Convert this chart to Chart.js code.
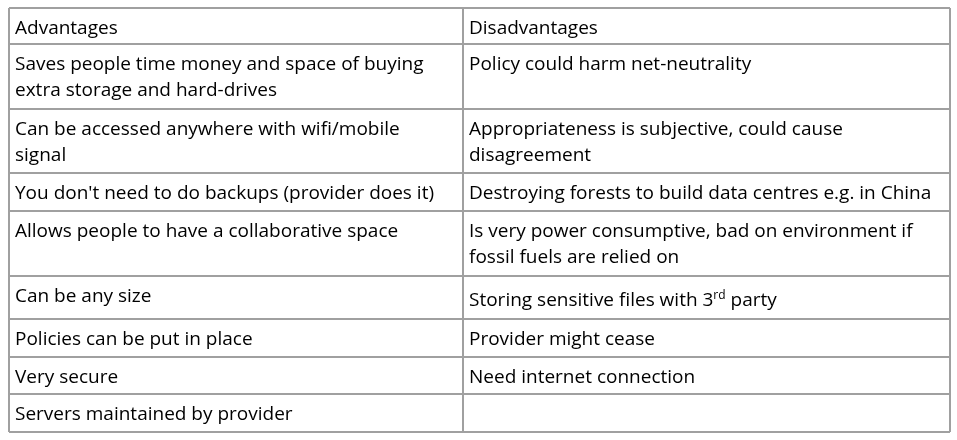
<!DOCTYPE html>
<html>
<head>
<meta charset="utf-8">
<script src="https://cdn.jsdelivr.net/npm/chart.js@4.4.1/dist/chart.umd.min.js"></script>
<style>
  html, body { margin: 0; padding: 0; background: #fff; }
  #wrap { width: 957px; height: 440px; }
</style>
</head>
<body>
<div id="wrap"><canvas id="table"></canvas></div>
<script>
// Table content
const columnHeaders = ['Advantages', 'Disadvantages'];
const advantages = [
  ['Saves people time money and space of buying', 'extra storage and hard-drives'],
  ['Can be accessed anywhere with wifi/mobile', 'signal'],
  ["You don't need to do backups (provider does it)"],
  ['Allows people to have a collaborative space'],
  ['Can be any size'],
  ['Policies can be put in place'],
  ['Very secure'],
  ['Servers maintained by provider']
];
const disadvantages = [
  ['Policy could harm net-neutrality'],
  ['Appropriateness is subjective, could cause', 'disagreement'],
  ['Destroying forests to build data centres e.g. in China'],
  ['Is very power consumptive, bad on environment if', 'fossil fuels are relied on'],
  ['Storing sensitive files with 3^{rd} party'],
  ['Provider might cease'],
  ['Need internet connection'],
  []
];
// Cell edges in table units (top to bottom, left to right)
const rowEdges = [0, 36, 101, 165, 203, 268, 311, 349, 386, 424];
const colEdges = [0, 454, 941];

const FONT_FAMILY = '"Open Sans", sans-serif';
const FONT_SIZE = 19;
const LINE_H = 26;

const rows = [columnHeaders.map(h => [h])];
advantages.forEach((a, i) => rows.push([a, disadvantages[i]]));

function drawLine(ctx, text, x, y) {
  // handle ^{...} superscripts
  const parts = text.split(/(\^\{[^}]*\})/);
  let cx = x;
  parts.forEach(p => {
    if (!p) return;
    if (p.startsWith('^{')) {
      const s = p.slice(2, -1);
      ctx.font = `${Math.round(FONT_SIZE * 0.65)}px ${FONT_FAMILY}`;
      ctx.fillText(s, cx, y - 7);
      cx += ctx.measureText(s).width;
      ctx.font = `${FONT_SIZE}px ${FONT_FAMILY}`;
    } else {
      ctx.fillText(p, cx, y);
      cx += ctx.measureText(p).width;
    }
  });
}

const tableText = {
  id: 'tableText',
  afterDraw(chart) {
    const { ctx, scales: { x, y } } = chart;
    ctx.save();
    ctx.fillStyle = '#000';
    ctx.textBaseline = 'alphabetic';
    ctx.textAlign = 'left';
    ctx.font = `${FONT_SIZE}px ${FONT_FAMILY}`;
    rows.forEach((row, r) => {
      row.forEach((lines, c) => {
        const px = x.getPixelForValue(colEdges[c]) + 6;
        const top = y.getPixelForValue(rowEdges[r]);
        lines.forEach((ln, i) => {
          const shift = ln.includes('^{') ? 4 : 0;
          drawLine(ctx, ln, px, top + 26 + shift + i * LINE_H);
        });
      });
    });
    ctx.restore();
  }
};

const gridStyle = { color: '#a0a0a0', lineWidth: 2, drawTicks: false };

new Chart(document.getElementById('table'), {
  type: 'scatter',
  data: { datasets: [{ data: [] }] },
  options: {
    responsive: true,
    maintainAspectRatio: false,
    animation: false,
    layout: { padding: { left: 9, top: 8, right: 7, bottom: 8 } },
    plugins: { legend: { display: false }, tooltip: { enabled: false } },
    scales: {
      x: {
        type: 'linear', min: colEdges[0], max: colEdges[colEdges.length - 1],
        afterBuildTicks: s => { s.ticks = colEdges.map(v => ({ value: v })); },
        ticks: { display: false },
        grid: gridStyle,
        border: { display: false }
      },
      y: {
        type: 'linear', reverse: true, min: rowEdges[0], max: rowEdges[rowEdges.length - 1],
        afterBuildTicks: s => { s.ticks = rowEdges.map(v => ({ value: v })); },
        ticks: { display: false },
        grid: gridStyle,
        border: { display: false }
      }
    }
  },
  plugins: [tableText]
});
</script>
</body>
</html>
